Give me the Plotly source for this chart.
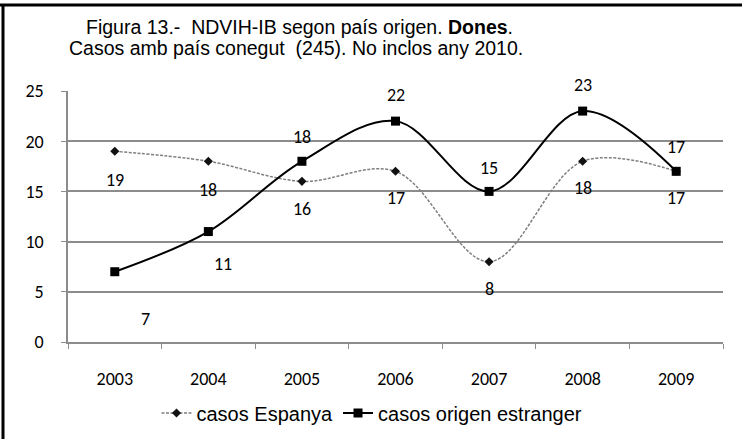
import plotly.graph_objects as go

years = ["2003", "2004", "2005", "2006", "2007", "2008", "2009"]
casos_espanya = [19, 18, 16, 17, 8, 18, 17]
casos_estranger = [7, 11, 18, 22, 15, 23, 17]
y_ticks = [0, 5, 10, 15, 20, 25]
title_lines = ["Figura 13.-  NDVIH-IB segon país origen. <b>Dones</b>.",
               "Casos amb país conegut  (245). No inclos any 2010."]

narrow = "Liberation Sans Narrow, Arial Narrow, Liberation Sans, Arial"
calib = "Carlito, Calibri, Lato, sans-serif"
grid = "#8c8c8c"
W, H = 742, 439
L, R, T, B = 68, 19, 91, 97
PW, PH = W - L - R, H - T - B

fig = go.Figure()
fig.add_trace(go.Scatter(
    x=years, y=casos_espanya, name="casos Espanya", mode="lines+markers",
    line=dict(color="#7f7f7f", width=1.5, dash="3px,1.5px", shape="spline", smoothing=1),
    marker=dict(symbol="diamond", size=7, color="#111111"),
))
fig.add_trace(go.Scatter(
    x=years, y=casos_estranger, name="casos origen estranger", mode="lines+markers",
    line=dict(color="#000000", width=2, shape="spline", smoothing=1),
    marker=dict(symbol="square", size=9, color="#000000"),
))

# data labels (x given as category index)
esp_shift = [(0, -29), (0, -29), (0, -28), (0, -27), (0, -27), (0, -27), (0, -27)]
est_shift = [(31, -47), (15, -32), (0, 24), (0, 26), (0, 23), (0, 26), (0, 24)]
for i, yr in enumerate(years):
    dx, dy = esp_shift[i]
    fig.add_annotation(x=i, y=casos_espanya[i], xref="x", yref="y", text=str(casos_espanya[i]),
                       showarrow=False, xshift=dx, yshift=dy,
                       font=dict(family=calib, size=18, color="#000"))
    dx, dy = est_shift[i]
    fig.add_annotation(x=i, y=casos_estranger[i], xref="x", yref="y", text=str(casos_estranger[i]),
                       showarrow=False, xshift=dx, yshift=dy,
                       font=dict(family=calib, size=18, color="#000"))

# title lines
for txt, cx, cy in [(title_lines[0], 299, 27), (title_lines[1], 296, 48)]:
    fig.add_annotation(text=txt, xref="paper", yref="paper",
                       x=(cx - L) / PW, y=1 + (T - cy) / PH, xanchor="center", yanchor="middle",
                       showarrow=False, font=dict(family=narrow, size=19.5, color="#000"))

fig.update_layout(
    width=W, height=H,
    margin=dict(l=L, r=R, t=T, b=B, autoexpand=False),
    paper_bgcolor="white", plot_bgcolor="white",
    showlegend=True,
    legend=dict(orientation="h", xref="container", x=372 / W, xanchor="center",
                yref="container", y=1 - 413 / H, yanchor="middle",
                font=dict(family=narrow, size=20, color="#000"),
                bgcolor="rgba(0,0,0,0)"),
    xaxis=dict(
        type="category", range=[-0.5, 6.5], automargin=False, tickangle=0,
        showgrid=False, showline=True, linecolor=grid, linewidth=1.5,
        ticks="outside", tickson="boundaries", ticklen=5, tickcolor=grid,
        tickfont=dict(family=calib, size=18, color="#000"), ticklabelstandoff=20,
    ),
    yaxis=dict(
        range=[0, 25], tickvals=y_ticks, automargin=False, showgrid=True, gridcolor=grid, gridwidth=1.5,
        showline=True, linecolor=grid, linewidth=1.5, zeroline=False,
        ticks="outside", ticklen=5, tickcolor=grid,
        tickfont=dict(family=calib, size=18, color="#000"), ticklabelstandoff=14,
    ),
    shapes=[
        dict(type="line", xref="paper", yref="paper", x0=-L / PW, x1=(W - L) / PW,
             y0=1 + (T - 5) / PH, y1=1 + (T - 5) / PH, line=dict(color="black", width=3)),
        dict(type="line", xref="paper", yref="paper", x0=-(L - 3) / PW, x1=-(L - 3) / PW,
             y0=-B / PH, y1=1 + (T - 5) / PH, line=dict(color="black", width=3)),
    ],
)

fig.write_html("out.html", config={"displayModeBar": False},
               post_script="document.body.style.margin='0';")
